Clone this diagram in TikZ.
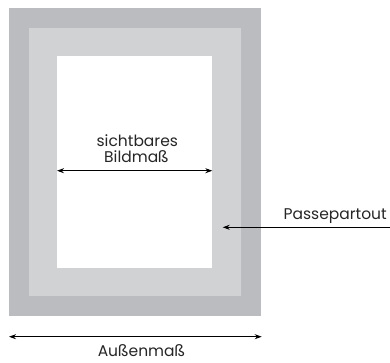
\documentclass[tikz,border=0pt]{standalone}
\usepackage{fontspec}
\setmainfont{Poppins}
\usetikzlibrary{arrows.meta}
\definecolor{rahmen}{HTML}{BBBCBF}
\definecolor{passep}{HTML}{D1D2D4}
\begin{document}
\begin{tikzpicture}[x=1pt,y=-1pt,>={Stealth[length=7pt,width=5pt]},line join=round,font=\fontsize{15.5}{17}\selectfont,
	txt/.style={inner sep=0pt,text=black!85}]
	\useasboundingbox (0,0) rectangle (390,362);
	\fill[rahmen] (9,8.3) rectangle (260.7,316);
	\fill[passep] (29,28.3) rectangle (240.7,296);
	\fill[white] (57,56) rectangle (212.3,268.3);
	
	\coordinate (bl) at (57,170.7);
	\coordinate (br) at (212.3,170.7);
	\coordinate (al) at (9,336.7);
	\coordinate (ar) at (261.7,336.7);
	\coordinate (pr) at (390,227.3);
	\coordinate (pl) at (222.7,227.3);
	
	\node[txt,anchor=base] (sicht) at (137.3,146.7) {sichtbares};
	\node[txt,anchor=base] (bild) at (136.5,162.7) {Bildmaß};
	\node[txt,anchor=base east] (passe) at (387,219.7) {Passepartout};
	\node[txt,anchor=base] (aussen) at (141.5,356.3) {Außenmaß};
	
	\draw[<->,line width=.9pt] (bl)--(br);
	\draw[<->,line width=.9pt] (al)--(ar);
	\draw[->,line width=.9pt] (pr)--(pl);
\end{tikzpicture}
\end{document}
